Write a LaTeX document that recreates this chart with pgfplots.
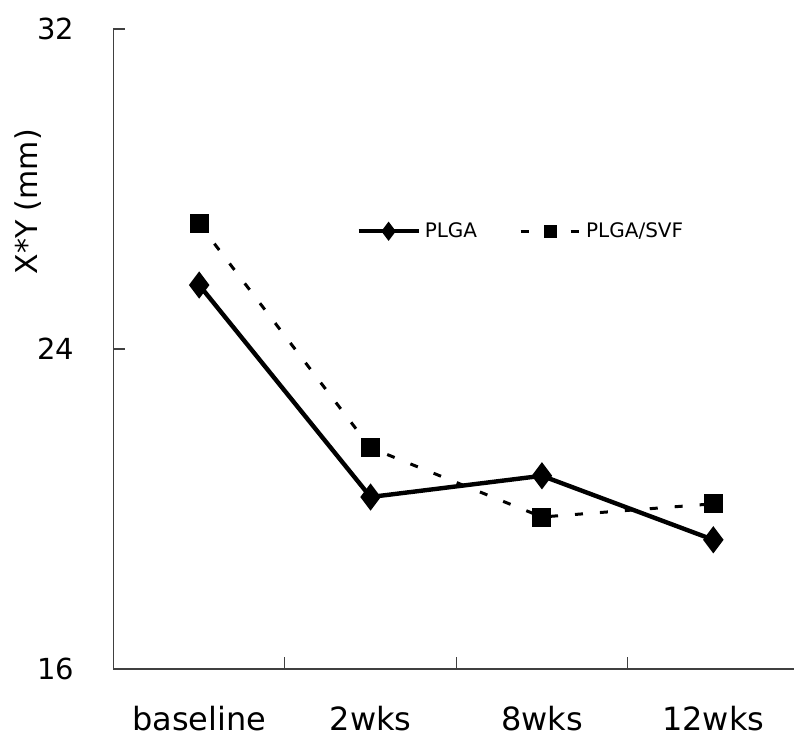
\documentclass[border=0pt]{standalone}
\usepackage{fontspec}
\setmainfont{DejaVu Sans}
\usepackage{pgfplots}
\pgfplotsset{compat=1.18}

\begin{document}
\begin{tikzpicture}
\begin{axis}[
  name=ax,
  scale only axis,
  width=342.75pt, height=320pt,
  xmin=-0.5, xmax=3.5,
  ymin=16, ymax=32,
  axis lines*=left,
  axis line style={line width=0.7pt, black!75},
  ytick={16,24,32},
  xtick={0,1,2,3},
  xticklabels={baseline,2wks,8wks,12wks},
  minor xtick={0.5,1.5,2.5},
  tick align=inside,
  major tick length=6pt, minor tick length=6pt,
  tick style={line width=0.6pt, black!75},
  major x tick style={draw=none},
  /pgf/number format/assume math mode=true,
  yticklabel style={font=\fontsize{14.5}{16}\selectfont, xshift=-16pt},
  xticklabel style={font=\fontsize{16}{18}\selectfont, yshift=-15pt},
  ylabel={X*Y (mm)},
  every axis y label/.style={at={(axis description cs:-0.125,0.73)}, rotate=90, anchor=center, font=\fontsize{15}{17}\selectfont},
  legend style={at={(axis description cs:0.345,0.684)}, anchor=west, draw=none, fill=none,
    font=\fontsize{10}{12}\selectfont, legend columns=-1,
    /tikz/every even column/.append style={column sep=19pt}},
  legend image code/.code={\draw[mark repeat=2,mark phase=2, every mark/.append style={scale=0.6}] plot coordinates {(0pt,0pt)(15pt,0pt)(30pt,0pt)};},
]
% PLGA
\addplot[black, line width=2.2pt, mark=diamond*, mark size=5pt] coordinates {
  (0,25.60) (1,20.30) (2,20.83) (3,19.23)
};
% PLGA/SVF
\addplot[black, line width=1.5pt, dash pattern=on 4pt off 8.5pt, mark=square*, mark size=4pt, mark options={solid}] coordinates {
  (0,27.13) (1,21.53) (2,19.80) (3,20.13)
};
\legend{PLGA, PLGA/SVF}
\end{axis}
\pgfresetboundingbox
\path ([shift={(-56.75pt,-33.5pt)}]ax.south west) rectangle ([shift={(-2.5pt,14.5pt)}]ax.north east);
\end{tikzpicture}
\end{document}
